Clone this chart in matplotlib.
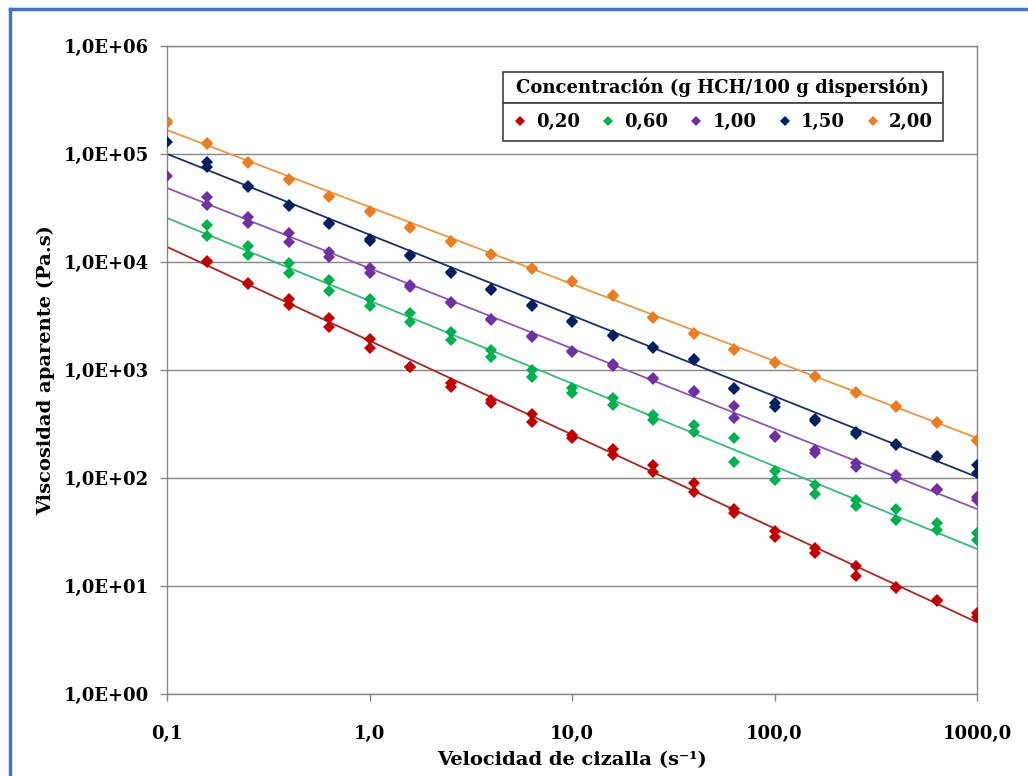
import numpy as np
import matplotlib
matplotlib.use("Agg")
from matplotlib import pyplot as plt
from matplotlib.patches import Rectangle
from matplotlib.lines import Line2D

plt.rcParams['font.family'] = ['DejaVu Serif']
plt.rcParams['font.weight'] = 'bold'

# shear rate (1/s)
shear = [0.1, 0.158, 0.251, 0.398, 0.631, 1.0, 1.585, 2.512, 3.981, 6.31, 10.0,
         15.85, 25.12, 39.81, 63.1, 100.0, 158.5, 251.2, 398.1, 631.0, 1000.0]
nan = np.nan

# apparent viscosity (Pa.s), two replicates per concentration
visc_020_a = [nan, 10200, 6400, 4540, 3020, 1940, 1070, 760, 527, 392, 250, 186, 132, 90, 52, 32, 22.5, 15.3, 9.8, 7.4, 5.6]
visc_020_b = [nan, 10000, 6300, 4000, 2520, 1600, 1060, 700, 494, 330, 235, 163, 114, 74, 47.5, 28.5, 20.2, 12.4, 9.6, 7.2, 5.2]
visc_060_a = [nan, 22000, 14000, 9800, 6800, 4540, 3370, 2250, 1530, 1000, 680, 550, 383, 310, 234, 116, 86, 62.5, 52, 38.3, 31]
visc_060_b = [nan, 17500, 11600, 7900, 5400, 3920, 2780, 1900, 1320, 860, 612, 475, 344, 267, 141, 96, 71, 55, 41, 33, 26.7]
visc_100_a = [62500, 40000, 26100, 18600, 12400, 8800, 6100, 4260, 2970, 2070, 1500, 1140, 845, 640, 465, 245, 180, 138, 107, 79, 66]
visc_100_b = [nan, 33700, 23000, 15300, 11100, 7900, 5900, 4150, 2900, 2020, 1480, 1100, 830, 630, 360, 240, 170, 126, 100, 77, 62]
visc_150_a = [129000, 84000, 51000, 34000, 23200, 16300, 11600, 8070, 5620, 4000, 2850, 2110, 1630, 1265, 680, 494, 350, 265, 207, 160, 132]
visc_150_b = [nan, 76000, 49500, 33000, 22500, 15700, 11300, 7900, 5500, 3900, 2800, 2060, 1600, 1230, 670, 454, 340, 258, 203, 158, 111]
visc_200_a = [202000, 126000, 84000, 58700, 40900, 29700, 21100, 15600, 11900, 8800, 6660, 4940, 3100, 2200, 1565, 1185, 880, 625, 465, 330, 225]
visc_200_b = [195000, 123000, 82000, 57500, 40000, 29000, 20700, 15300, 11700, 8600, 6500, 4850, 3050, 2150, 1540, 1165, 865, 615, 458, 325, 220]

labels = ['0,20', '0,60', '1,00', '1,50', '2,00']
# power-law fit: visc = K * shear^m
fit_K = [1866, 4375, 8750, 17900, 32300]
fit_m = [-0.869, -0.766, -0.743, -0.748, -0.713]

series = [(visc_020_a, visc_020_b), (visc_060_a, visc_060_b), (visc_100_a, visc_100_b),
          (visc_150_a, visc_150_b), (visc_200_a, visc_200_b)]
mcolors = ['#C00000', '#00B050', '#7030A0', '#002060', '#E87D22']
lcolors = ['#A52828', '#3DB878', '#8A5AB0', '#1F3060', '#E8964A']

fig = plt.figure(figsize=(10.28, 7.76), dpi=100)
ax = fig.add_axes([0.1625, 0.1057, 0.7879, 0.835])

xl = np.array([0.1, 1000.0])
handles = []
for (a, b), K, m, mc, lc, lab in zip(series, fit_K, fit_m, mcolors, lcolors, labels):
    ax.plot(xl, K * xl ** m, color=lc, lw=1.3, zorder=2)
    ax.plot(shear, a, 'D', color=mc, ms=6.3, mew=0, zorder=3)
    ax.plot(shear, b, 'D', color=mc, ms=6.3, mew=0, zorder=3)
    handles.append(Line2D([], [], marker='D', color=mc, ls='none', ms=5, mew=0, label=lab))

ax.set_xscale('log')
ax.set_yscale('log')
ax.set_xlim(0.1, 1000)
ax.set_ylim(1, 1e6)
ax.minorticks_off()
ax.set_xticks([0.1, 1, 10, 100, 1000])
ax.set_xticklabels(['0,1', '1,0', '10,0', '100,0', '1000,0'])
ax.set_yticks([1, 10, 100, 1e3, 1e4, 1e5, 1e6])
ax.set_yticklabels(['1,0E+00', '1,0E+01', '1,0E+02', '1,0E+03', '1,0E+04', '1,0E+05', '1,0E+06'])
ax.tick_params(axis='both', labelsize=13, color='#868686', length=5, width=1)
ax.tick_params(axis='y', pad=8)
ax.tick_params(axis='x', pad=17)
ax.yaxis.grid(True, color='#868686', lw=1)
ax.set_axisbelow(True)
for s in ax.spines.values():
    s.set_color('#868686')
    s.set_linewidth(1)

ax.set_ylabel('Viscosidad aparente (Pa.s)', fontsize=14, fontweight='bold', labelpad=6)
ax.set_xlabel('Velocidad de cizalla (s\u207b\u00b9)', fontsize=14, fontweight='bold', labelpad=6)

# legend: title box + entries box
W, H = 1028.0, 776.0
x0, x1 = 503 / W, 943 / W
ytop, ymid, ybot = 1 - 72 / H, 1 - 103 / H, 1 - 141 / H
fig.patches.append(Rectangle((x0, ymid), x1 - x0, ytop - ymid, transform=fig.transFigure,
                             fill=True, facecolor='white', edgecolor='#404040', lw=1.2, zorder=5))
fig.patches.append(Rectangle((x0, ybot), x1 - x0, ymid - ybot, transform=fig.transFigure,
                             fill=True, facecolor='white', edgecolor='#404040', lw=1.2, zorder=5))
fig.text((x0 + x1) / 2, (ytop + ymid) / 2, 'Concentración (g HCH/100 g dispersión)',
         ha='center', va='center', fontsize=13, fontweight='bold', zorder=6)
leg = fig.legend(handles=handles, loc='center', bbox_to_anchor=((x0 + x1) / 2, (ymid + ybot) / 2),
                 ncol=5, frameon=False, fontsize=13, handlelength=0.8, handletextpad=0.5,
                 columnspacing=1.15, borderpad=0)
leg.set_zorder(7)

# blue outer border
fig.add_artist(Line2D([10 / W, 10 / W], [0, 1 - 9 / H], transform=fig.transFigure, color='#4472C4', lw=2.5))
fig.add_artist(Line2D([10 / W, 1], [1 - 9 / H, 1 - 9 / H], transform=fig.transFigure, color='#4472C4', lw=2.5))

fig.savefig('out.png', dpi=100)
